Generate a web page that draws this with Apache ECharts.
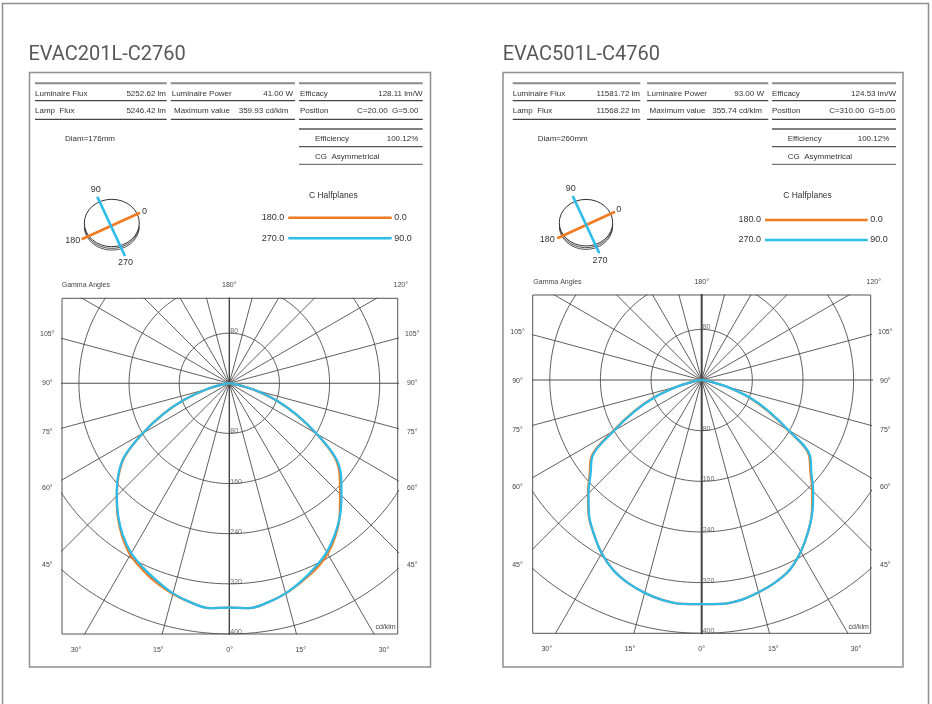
<!DOCTYPE html>
<html><head><meta charset="utf-8">
<script src="https://cdn.jsdelivr.net/npm/echarts@6/dist/echarts.min.js"></script>
<style>html,body{margin:0;padding:0;background:#fff}#c{width:932px;height:704px}</style>
</head><body><div id="c"></div>
<script>
// ---------- DATA ----------
const gammas = [0,5,10,15,20,25,30,35,40,45,50,55,60,65,70,75,80,85,90];
// EVAC201L-C2760 (cd/klm)
const leftC0   = [358,360,355,347,337,327,314,296,274,250,230,205,160,118,80,42,15,4,0];
const leftC90  = [358,360,355,347,336,324,311,294,275,253,233,207,161,119,81,43,15,4,0];
const leftC180 = [358,360,355,348,339,328,316,298,277,254,231,204,160,117,75,37,12,3,0];
const leftC270 = [358,360,355,347,336,325,313,296,276,254,232,205,160,117,76,38,12,3,0];
// EVAC501L-C4760 (cd/klm)
const rightC0   = [354,355,353,347,340,330,313,293,271,247,224,207,156,115,79,41,14,3,0];
const rightC90  = [354,355,353,347,340,330,313,293,272,249,226,209,158,117,80,42,14,3,0];
const rightC180 = [354,355,353,348,341,331,316,297,278,254,231,213,162,119,80,41,13,3,0];
const rightC270 = [354,355,353,348,341,331,316,297,277,253,229,211,160,117,79,40,13,3,0];

const radialTicks = [80,160,240,320,400];
const topRadialTicks = [80];
const spokeAngles = [0,15,30,45,60,75,90,105,120,135,150,165];
const sideLabels = ['105°','90°','75°','60°','45°'];
const bottomLabels = ['30°','15°','0°','15°','30°'];
const topLabels = ['Gamma Angles','180°','120°'];
const planeLegend = [['180.0','0.0'],['270.0','90.0']];
const miniLabels = ['90','0','180','270'];

const leftTitle = 'EVAC201L-C2760';
const rightTitle = 'EVAC501L-C4760';
const leftRow1 = [['Luminaire Flux','5252.62 lm'],['Luminaire Power','41.00 W'],['Efficacy','128.11 lm/W']];
const leftRow2 = [['Lamp  Flux','5246.42 lm'],['Maximum value','359.93 cd/klm'],['Position','C=20.00  G=5.00']];
const leftDiam = 'Diam=176mm';
const rightRow1 = [['Luminaire Flux','11581.72 lm'],['Luminaire Power','93.00 W'],['Efficacy','124.53 lm/W']];
const rightRow2 = [['Lamp  Flux','11568.22 lm'],['Maximum value','355.74 cd/klm'],['Position','C=310.00  G=5.00']];
const rightDiam = 'Diam=260mm';
const effRow = ['Efficiency','100.12%'];
const cgRow = 'CG  Asymmetrical';
const legendTitle = 'C Halfplanes';
const unitLabel = 'cd/klm';

// ---------- LAYOUT ----------
const ORANGE = '#F07B22', BLUE = '#2CBCEB';
const FONT = '"Liberation Sans", Arial, sans-serif';
const GRIDC = '#4e4e4e';
const panels = [
  { title: leftTitle, row1: leftRow1, row2: leftRow2, diam: leftDiam,
    C0: leftC0, C90: leftC90, C180: leftC180, C270: leftC270,
    box: [29.5, 72.5, 401, 594.5], titleX: 28.5,
    cols: [[35,166.7],[170.7,295],[299,422.7]],
    r1: [[35,166],[171.7,293],[300,422.5]], r2: [[35,166],[174,288.5],[300,418.5]],
    eff: [315, 418.3], diamX: 65,
    mini: {cx:111.8, cy:223, rx:27.5, ry:23.7, o:[81.7,239.3,140,212.7], b:[97.3,196.7,125,256],
           lab:[[95.7,190],[144.5,211.7],[72.7,241],[125.5,262.7]]},
    leg: {cx:333.3, ty:196, x1:288.3, x2:391.7, y1:217.7, y2:238.3},
    grid: {left:62, top:298.3, width:335.7, height:335.7},
    xr: [-267, 268.7], yr: [-400, 135.6], cLW: 1.4,
    topL: [[61.7,285,'left'],[229.3,285,'center'],[400.8,285,'center']],
    sideX: [47.3, 412.2], sideY: [334.3, 383, 431.7, 488.3, 565.3],
    botY: 650, botX: [76, 158.3, 229.7, 300.7, 384], unit:[385.5, 627.3] },
  { title: rightTitle, row1: rightRow1, row2: rightRow2, diam: rightDiam,
    C0: rightC0, C90: rightC90, C180: rightC180, C270: rightC270,
    box: [503, 72.5, 400, 594.5], titleX: 502.7,
    cols: [[512.7,640.3],[647,768.3],[772,896]],
    r1: [[512.7,640],[647,764],[772,896]], r2: [[512.7,640],[649.5,762],[772,895]],
    eff: [787.7, 889.3], diamX: 537.7,
    mini: {cx:586, cy:222.7, rx:26.7, ry:23.3, o:[557.3,238.3,615,211.7], b:[572.7,196,599.3,253.3],
           lab:[[570.8,189],[618.7,210],[547.2,240],[600,260.7]]},
    leg: {cx:807.5, ty:196, x1:765, x2:867.7, y1:220, y2:240},
    grid: {left:532.7, top:295, width:338, height:338.3},
    xr: [-267, 267], yr: [-400, 134.3], cLW: 2,
    topL: [[533.3,281.7,'left'],[701.7,281.7,'center'],[873.8,281.7,'center']],
    sideX: [517.5, 885.3], sideY: [332.3, 381, 430, 486.7, 565],
    botY: 649, botX: [546.7, 630, 701.7, 773.3, 856], unit:[858.7, 626.7] }
];

function txt(x, y, text, size, align, color, family, va) {
  return { type:'text', x:x, y:y, z:50, silent:true,
    style:{ text:text, fill:color||'#333', font:(size||8)+'px '+(family||FONT),
      align:align||'left', verticalAlign:va||'middle',
      textAlign:align||'left', textVerticalAlign:va||'middle' } };
}
function ln(x1,y1,x2,y2,color,w){
  return { type:'line', z:40, silent:true, shape:{x1:x1,y1:y1,x2:x2,y2:y2}, style:{stroke:color, lineWidth:w} };
}

const rad = d => d*Math.PI/180;
function planePoints(leftVals, rightVals){
  const pts = [];
  for (let i = gammas.length-1; i >= 0; i--) {
    const g = rad(gammas[i]);
    pts.push([-leftVals[i]*Math.sin(g), -leftVals[i]*Math.cos(g)]);
  }
  for (let i = 1; i < gammas.length; i++) {
    const g = rad(gammas[i]);
    pts.push([rightVals[i]*Math.sin(g), -rightVals[i]*Math.cos(g)]);
  }
  return pts;
}
function circlePts(r){
  const p = [];
  for (let a = 0; a <= 360; a += 2) p.push([r*Math.sin(rad(a)), r*Math.cos(rad(a))]);
  return p;
}

const graphic = [];
graphic.push({ type:'rect', z:0, silent:true, shape:{x:2.5,y:3.5,width:926,height:720}, style:{fill:'none', stroke:'#8f8f8f', lineWidth:1.5} });

const grids = [], xAxes = [], yAxes = [], series = [];

panels.forEach((p, k) => {
  graphic.push({ type:'rect', z:1, silent:true, shape:{x:p.box[0],y:p.box[1],width:p.box[2],height:p.box[3]}, style:{fill:'#fff', stroke:'#8f8f8f', lineWidth:1.5} });
  graphic.push(txt(p.titleX, 55, p.title, 20, 'left', '#585858', 'Roboto, sans-serif'));
  p.cols.forEach((c, j) => {
    graphic.push(ln(c[0], 83.3, c[1], 83.3, '#8a8a8a', 2));
    graphic.push(ln(c[0], 100.7, c[1], 100.7, '#444', 1.2));
    graphic.push(ln(c[0], 119.3, c[1], 119.3, '#444', 1.2));
    graphic.push(txt(p.r1[j][0], 93.3, p.row1[j][0], 8));
    graphic.push(txt(p.r1[j][1], 93.3, p.row1[j][1], 8, 'right'));
    graphic.push(txt(p.r2[j][0], 110.7, p.row2[j][0], 8));
    graphic.push(txt(p.r2[j][1], 110.7, p.row2[j][1], 8, 'right'));
  });
  const c3 = p.cols[2];
  graphic.push(ln(c3[0], 129, c3[1], 129, '#555', 1.6));
  graphic.push(ln(c3[0], 146.7, c3[1], 146.7, '#555', 1.3));
  graphic.push(ln(c3[0], 164.3, c3[1], 164.3, '#777', 1.3));
  graphic.push(txt(p.eff[0], 138.3, effRow[0], 8));
  graphic.push(txt(p.eff[1], 138.3, effRow[1], 8, 'right'));
  graphic.push(txt(p.eff[0], 156.7, cgRow, 8));
  graphic.push(txt(p.diamX, 138.3, p.diam, 8));
  const m = p.mini;
  [3.4, 1.7].forEach(off => graphic.push({ type:'arc', z:30, silent:true, x:m.cx, y:m.cy+off, scaleY:m.ry/m.rx,
    shape:{cx:0, cy:0, r:m.rx, startAngle:0.05, endAngle:Math.PI-0.05}, style:{stroke:'#333', lineWidth:0.9, fill:'none'} }));
  graphic.push({ type:'circle', z:31, silent:true, x:m.cx, y:m.cy, scaleY:m.ry/m.rx, shape:{cx:0, cy:0, r:m.rx}, style:{stroke:'#222', lineWidth:1, fill:'#fff'} });
  graphic.push(ln(m.o[0], m.o[1], m.o[2], m.o[3], ORANGE, 2.6));
  graphic.push(ln(m.b[0], m.b[1], m.b[2], m.b[3], BLUE, 2.6));
  miniLabels.forEach((t, i) => graphic.push(txt(m.lab[i][0], m.lab[i][1], t, 9, 'center', '#333')));
  const L = p.leg;
  graphic.push(txt(L.cx, L.ty, legendTitle, 8.5, 'center', '#333'));
  graphic.push(ln(L.x1, L.y1, L.x2, L.y1, ORANGE, 2.6));
  graphic.push(ln(L.x1, L.y2, L.x2, L.y2, BLUE, 2.6));
  graphic.push(txt(L.x1-4, L.y1, planeLegend[0][0], 9, 'right', '#333'));
  graphic.push(txt(L.x2+2.5, L.y1, planeLegend[0][1], 9, 'left', '#333'));
  graphic.push(txt(L.x1-4, L.y2, planeLegend[1][0], 9, 'right', '#333'));
  graphic.push(txt(L.x2+2.5, L.y2, planeLegend[1][1], 9, 'left', '#333'));
  topLabels.forEach((t, i) => graphic.push(txt(p.topL[i][0], p.topL[i][1], t, 7, p.topL[i][2], '#444')));
  sideLabels.forEach((t, i) => {
    graphic.push(txt(p.sideX[0], p.sideY[i], t, 7, 'center', '#444'));
    graphic.push(txt(p.sideX[1], p.sideY[i], t, 7, 'center', '#444'));
  });
  bottomLabels.forEach((t, i) => graphic.push(txt(p.botX[i], p.botY, t, 7, 'center', '#444')));
  graphic.push(txt(p.unit[0], p.unit[1], unitLabel, 7, 'center', '#444'));

  grids.push(Object.assign({ show:true, borderColor:'#555', borderWidth:1, backgroundColor:'rgba(0,0,0,0)', z:10 }, p.grid));
  xAxes.push({ gridIndex:k, type:'value', min:p.xr[0], max:p.xr[1], show:false });
  yAxes.push({ gridIndex:k, type:'value', min:p.yr[0], max:p.yr[1], show:false });

  const common = { xAxisIndex:k, yAxisIndex:k, showSymbol:false, silent:true, animation:false, clip:true };
  radialTicks.forEach(r => series.push(Object.assign({ type:'line', data:circlePts(r), z:11,
    lineStyle:{ color:GRIDC, width:0.9 } }, common)));
  spokeAngles.forEach(a => {
    const L2 = 700, s = Math.sin(rad(a)), c = Math.cos(rad(a));
    series.push(Object.assign({ type:'line', data:[[-L2*s, -L2*c],[L2*s, L2*c]], z:11,
      lineStyle:{ color: a===0 ? '#444' : GRIDC, width: a===0 ? p.cLW : (a===90 ? 1.1 : 0.9) } }, common));
  });
  series.push(Object.assign({ type:'line', name:'C0-C180', data:planePoints(p.C180, p.C0), z:20, smooth:0.35,
    lineStyle:{ color:ORANGE, width:2.3 } }, common));
  series.push(Object.assign({ type:'line', name:'C90-C270', data:planePoints(p.C270, p.C90), z:21, smooth:0.35,
    lineStyle:{ color:BLUE, width:2.3 } }, common));
  const labPts = topRadialTicks.map(r => [0, r]).concat(radialTicks.map(r => [0, -r]));
  series.push({ type:'scatter', xAxisIndex:k, yAxisIndex:k, data:labPts, symbolSize:0, silent:true, animation:false, clip:false, z:25,
    label:{ show:true, position:'right', distance:1, verticalAlign:'bottom', offset:[0,1.5],
      formatter: d => String(Math.abs(d.value[1])), fontSize:7, color:'#444', fontFamily:FONT } });
});

const chart = echarts.init(document.getElementById('c'), null, { renderer:'canvas', width:932, height:704 });
chart.setOption({ backgroundColor:'#fff', animation:false, grid:grids, xAxis:xAxes, yAxis:yAxes, series:series, graphic:{ elements:graphic } });
</script></body></html>
